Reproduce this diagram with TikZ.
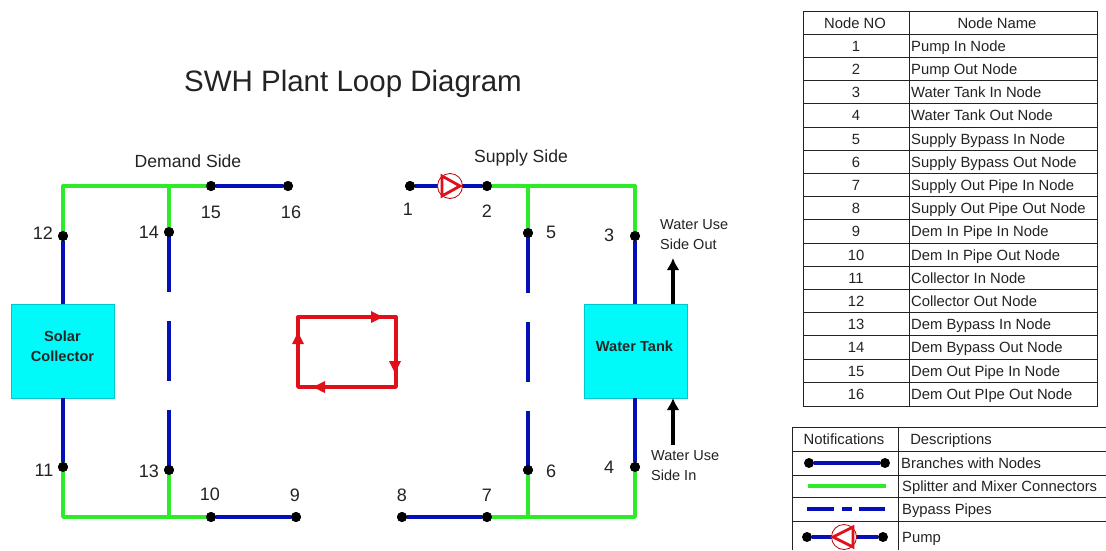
\documentclass[tikz,border=0pt]{standalone}
\usepackage{fontspec}
\setmainfont{Liberation Sans}
\usetikzlibrary{arrows.meta,calc}
\definecolor{pipeblue}{RGB}{5,15,185}
\definecolor{pipegreen}{RGB}{45,235,40}
\definecolor{tankcyan}{RGB}{0,250,250}
\definecolor{loopred}{RGB}{225,15,25}
\definecolor{inkgrey}{RGB}{35,35,35}
\tikzset{
  x=1pt,y=-1pt,
  bluepipe/.style={draw=pipeblue,line width=3.2pt},
  greenpipe/.style={draw=pipegreen,line width=3.4pt},
  dashpipe/.style={draw=pipeblue,line width=3.2pt,dash pattern=on 60pt off 29pt},
  dot/.style={circle,fill=black,inner sep=0pt,minimum size=10pt},
  lab/.style={text=inkgrey,font=\fontsize{18}{20}\selectfont,inner sep=0pt},
  small/.style={text=inkgrey,font=\fontsize{14.5}{20}\selectfont,align=left,anchor=west,inner sep=0pt},
  device/.style={draw=tankcyan!80!black,line width=0.3pt,fill=tankcyan,minimum width=103pt,minimum height=94pt,inner sep=0pt},
  devtext/.style={text=black!85,font=\fontsize{14.6}{20}\selectfont\bfseries,align=center,inner sep=0pt},
  redline/.style={draw=loopred,line width=3.4pt,line cap=round,line join=round},
  redarrow/.style={fill=loopred,draw=none},
  grid/.style={draw=inkgrey,line width=1pt},
  cell/.style={text=inkgrey,font=\fontsize{14.8}{17}\selectfont,inner sep=0pt,anchor=base},
  lcell/.style={text=inkgrey,font=\fontsize{14.8}{17}\selectfont,inner sep=0pt,anchor=base west},
  flow/.style={draw=black,line width=3.2pt,-{Latex[length=12pt,width=13pt]}},
  pumpring/.style={circle,draw=red!70!black,line width=0.8pt,fill=white,minimum size=25pt,inner sep=0pt},
  pumptri/.style={draw=loopred,line width=2.8pt,line join=miter},
}
\begin{document}
\begin{tikzpicture}
\useasboundingbox (0,0) rectangle (1106,550);
\fill[white] (0,0) rectangle (1106,550);
\node[text=inkgrey,font=\fontsize{29.5}{32}\selectfont,inner sep=0pt] (title) at (353,84) {SWH Plant Loop Diagram};
\node[text=inkgrey,font=\fontsize{17.6}{20}\selectfont,inner sep=0pt] (demand) at (188,161) {Demand Side};
\node[text=inkgrey,font=\fontsize{17.6}{20}\selectfont,inner sep=0pt] (supply) at (521,158) {Supply Side};

% devices
\node[device] (collector) at (62.5,351) {};
\node[device] (tank) at (635.5,351) {};
\node[devtext] (collectortext) at (62.5,346) {Solar\\Collector};
\node[devtext] (tanktext) at (634.5,346) {Water Tank};

% junctions
\coordinate (tl) at (63,186); \coordinate (bl) at (63,517);
\coordinate (tm) at (169,186); \coordinate (bm) at (169,517);
\coordinate (tsm) at (528,186); \coordinate (bsm) at (528,517);
\coordinate (tr) at (635,186); \coordinate (br) at (635,517);

% named graph nodes
\node[dot] (n1) at (410,186) {};
\node[dot] (n2) at (487,186) {};
\node[dot] (n3) at (635,236) {};
\node[dot] (n4) at (635,467) {};
\node[dot] (n5) at (528,233) {};
\node[dot] (n6) at (528,470) {};
\node[dot] (n7) at (487,517) {};
\node[dot] (n8) at (402,517) {};
\node[dot] (n9) at (296,517) {};
\node[dot] (n10) at (211,517) {};
\node[dot] (n11) at (63,467) {};
\node[dot] (n12) at (63,236) {};
\node[dot] (n13) at (169,470) {};
\node[dot] (n14) at (169,232) {};
\node[dot] (n15) at (211,186) {};
\node[dot] (n16) at (288,186) {};

% green
\draw[greenpipe,line join=round] (n15.center) -- (tl) -- (n12.center);
\draw[greenpipe] (tm) -- (n14.center);
\draw[greenpipe,line join=round] (n10.center) -- (bl) -- (n11.center);
\draw[greenpipe] (bm) -- (n13.center);
\draw[greenpipe,line join=round] (n2.center) -- (tr) -- (n3.center);
\draw[greenpipe] (tsm) -- (n5.center);
\draw[greenpipe,line join=round] (n7.center) -- (br) -- (n4.center);
\draw[greenpipe] (bsm) -- (n6.center);
% blue
\draw[bluepipe] (n15) -- (n16);
\draw[bluepipe] (n10) -- (n9);
\draw[bluepipe] (n8) -- (n7);
\draw[bluepipe] (n1) -- (n2);
\draw[bluepipe] (n12) -- (collector.north -| n12);
\draw[bluepipe] (n11) -- (collector.south -| n11);
\draw[bluepipe] (n3) -- (tank.north -| n3);
\draw[bluepipe] (n4) -- (tank.south -| n4);
\draw[dashpipe] (n14.center) -- (n13.center);
\draw[dashpipe] (n5.center) -- (n6.center);
\foreach \n in {n1,n2,n3,n4,n5,n6,n7,n8,n9,n10,n11,n12,n13,n14,n15,n16} \node[dot] at (\n) {};

% pump
\node[pumpring] (pump) at (450,186) {};
\draw[pumptri] (442,176) -- (460,186) -- (442,196) -- cycle;

% labels
\node[lab] (l1) at (408,209) {1};
\node[lab] (l2) at (487,211) {2};
\node[lab] (l3) at (609,235) {3};
\node[lab] (l4) at (609,467) {4};
\node[lab] (l5) at (551,232) {5};
\node[lab] (l6) at (551,471) {6};
\node[lab] (l7) at (487,495) {7};
\node[lab] (l8) at (402,495) {8};
\node[lab] (l9) at (295,495) {9};
\node[lab] (l10) at (210,494) {10};
\node[lab] (l11) at (44,470) {11};
\node[lab] (l12) at (43,233) {12};
\node[lab] (l13) at (149,471) {13};
\node[lab] (l14) at (149,232) {14};
\node[lab] (l15) at (211,212) {15};
\node[lab] (l16) at (291,212) {16};

\node[small] (wout) at (660,235) {Water Use\\Side Out};
\node[small] (win) at (651,466) {Water Use\\Side In};
\coordinate (aout) at (673,304); \coordinate (aoute) at (673,258);
\coordinate (ain) at (673,445); \coordinate (aine) at (673,398);
\draw[flow] (aout) -- (aoute);
\draw[flow] (ain) -- (aine);

% loop
\coordinate (ra) at (298,317); \coordinate (rb) at (396,317);
\coordinate (rc) at (396,387); \coordinate (rd) at (298,387);
\draw[redline] (ra) -- (rb) -- (rc) -- (rd) -- cycle;
\fill[redarrow] (383,317) -- (371,311) -- (371,323) -- cycle;
\fill[redarrow] (395,373) -- (389,361) -- (401,361) -- cycle;
\fill[redarrow] (313,387) -- (325,381) -- (325,393) -- cycle;
\fill[redarrow] (298,332) -- (292,344) -- (304,344) -- cycle;

% table 1
\def\rowh{23.2}
\draw[grid] (803,11) rectangle (1097,406);
\draw[grid] (909,11) -- (909,406);
\foreach \i in {1,...,16} \draw[grid] (803,{11+\i*\rowh}) -- (1097,{11+\i*\rowh});
\node[cell] (hno) at (855,28) {Node NO};
\node[cell] (hname) at (997,28) {Node Name};
\foreach \i/\t in {1/Pump In Node,2/Pump Out Node,3/Water Tank In Node,4/Water Tank Out Node,5/Supply Bypass In Node,6/Supply Bypass Out Node,7/Supply Out Pipe In Node,8/Supply Out Pipe Out Node,9/Dem In Pipe In Node,10/Dem In Pipe Out Node,11/Collector In Node,12/Collector Out Node,13/Dem Bypass In Node,14/Dem Bypass Out Node,15/Dem Out Pipe In Node,16/Dem Out PIpe Out Node}{
  \node[cell] (no\i) at (856,{28+\i*\rowh}) {\i};
  \node[lcell] (name\i) at (911,{28+\i*\rowh}) {\t};
}

% table 2
\draw[grid] (1106,427) -- (792,427) -- (792,550);
\draw[grid] (898,427) -- (898,550);
\foreach \y in {451,475,497,521} \draw[grid] (792,\y) -- (1106,\y);
\node[cell] (hnot) at (844,444) {Notifications};
\node[cell] (hdes) at (951,444) {Descriptions};
\node[lcell] (d1) at (901,468) {Branches with Nodes};
\node[lcell] (d2) at (902,491) {Splitter and Mixer Connectors};
\node[lcell] (d3) at (902,514) {Bypass Pipes};
\node[lcell] (d4) at (902,542) {Pump};
\node[dot] (la) at (809,463) {};
\node[dot] (lb) at (885,463) {};
\draw[bluepipe] (la) -- (lb);
\coordinate (lc) at (808,486); \coordinate (ld) at (886,486);
\draw[greenpipe] (lc) -- (ld);
\coordinate (le) at (807,509); \coordinate (lf) at (885,509);
\draw[bluepipe,dash pattern=on 27pt off 8pt on 10pt off 7pt] (le) -- (lf);
\node[dot] (lg) at (807,537) {};
\node[dot] (lh) at (883,537) {};
\draw[bluepipe] (lg) -- (lh);
\node[pumpring] (lp) at (844,537) {};
\draw[pumptri] (853,527) -- (833,537) -- (853,547) -- cycle;
\end{tikzpicture}
\end{document}
